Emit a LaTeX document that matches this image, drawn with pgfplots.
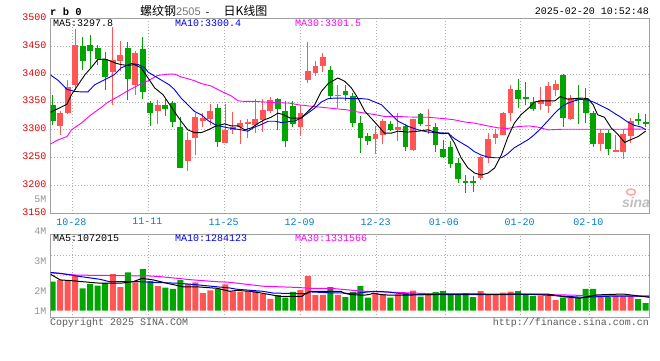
\documentclass[border=0pt]{standalone}
\usepackage{fontspec}
\setmainfont{Liberation Sans}
\setmonofont{Liberation Mono}
\newfontfamily\cjk{Noto Sans CJK SC}
\usepackage{pgfplots}
\usepackage{pgfplotstable}
\pgfplotsset{compat=1.18}
\definecolor{cRed}{RGB}{255,85,85}
\definecolor{cGreen}{RGB}{0,165,0}
\definecolor{lblRed}{RGB}{225,0,0}
\definecolor{lblBlue}{RGB}{0,125,205}
\definecolor{lblGray}{RGB}{150,150,150}
\definecolor{txtGray}{RGB}{90,90,90}
\definecolor{frameGray}{RGB}{160,160,160}
\definecolor{gridGray}{RGB}{175,175,175}
\definecolor{maBlue}{RGB}{0,0,235}
\definecolor{maMag}{RGB}{255,0,255}

% up (red) candles: index, open, high, low, close, volume (M)
\pgfplotstableread{
k o h l c v
2 3307 3333 3290 3331 2.35
3 3331 3390 3328 3377 2.35
4 3380 3480 3372 3452 2.50
9 3403 3485 3344 3426 2.55
10 3424 3460 3405 3434 2.12
12 3380 3441 3363 3438 2.28
15 3333 3354 3310 3345 2.15
19 3244 3297 3226 3281 2.23
20 3285 3330 3255 3323 2.28
21 3315 3330 3305 3321 1.92
22 3320 3347 3309 3333 2.01
24 3277 3346 3277 3300 2.21
25 3300 3332 3292 3305 1.98
26 3305 3318 3274 3312 1.96
27 3312 3320 3285 3313 1.98
28 3309 3355 3294 3320 1.98
29 3318 3356 3297 3335 1.89
30 3334 3358 3330 3354 1.73
34 3305 3345 3289 3330 2.02
35 3390 3458 3384 3405 2.49
36 3402 3424 3396 3415 1.85
37 3414 3438 3403 3430 1.86
39 3361 3381 3340 3363 1.86
44 3283 3307 3257 3292 1.92
45 3290 3319 3275 3315 1.88
47 3300 3331 3280 3306 1.88
49 3264 3320 3262 3319 2.00
51 3307 3337 3292 3309 1.91
58 3214 3254 3210 3251 1.99
59 3249 3295 3240 3284 1.89
60 3285 3301 3274 3292 1.86
61 3290 3332 3290 3330 1.94
62 3330 3380 3315 3374 1.97
66 3346 3377 3336 3354 1.83
67 3342 3385 3330 3379 1.83
68 3371 3389 3360 3382 1.69
70 3319 3363 3317 3357 1.77
74 3274 3302 3262 3294 1.83
76 3261 3290 3260 3263 1.83
77 3261 3302 3248 3292 1.83
78 3289 3321 3277 3315 1.83
}\upT

% down (green) candles
\pgfplotstableread{
k o h l c v
1 3344 3363 3308 3315 2.30
5 3450 3466 3407 3423 2.08
6 3452 3470 3410 3441 2.23
7 3446 3452 3416 3427 2.17
8 3427 3440 3372 3395 2.25
11 3446 3458 3354 3392 2.61
13 3445 3467 3356 3367 2.72
14 3348 3352 3307 3331 2.32
16 3345 3355 3325 3337 2.10
17 3349 3352 3305 3314 2.06
18 3306 3323 3231 3231 2.35
23 3340 3346 3269 3278 2.06
31 3355 3357 3299 3338 1.85
32 3334 3351 3270 3280 1.77
33 3342 3352 3305 3311 1.96
38 3408 3414 3358 3361 2.12
40 3370 3380 3352 3363 1.79
41 3361 3366 3305 3312 1.96
42 3313 3324 3258 3286 2.16
43 3289 3295 3273 3280 1.77
46 3310 3316 3298 3300 1.77
48 3307 3310 3262 3270 1.92
50 3329 3330 3307 3311 1.80
52 3306 3312 3261 3273 1.95
53 3265 3282 3250 3252 1.99
54 3270 3280 3231 3239 1.86
55 3240 3250 3205 3212 1.86
56 3208 3219 3186 3204 1.92
57 3208 3218 3189 3204 1.79
63 3371 3392 3340 3356 1.99
64 3359 3386 3344 3357 1.87
65 3350 3359 3334 3337 1.83
69 3398 3400 3306 3321 1.77
71 3357 3380 3311 3354 1.77
72 3356 3375 3312 3331 2.06
73 3331 3333 3269 3274 2.06
75 3294 3300 3255 3266 1.79
79 3320 3331 3308 3316 1.72
80 3314 3328 3305 3311 1.59
}\downT

\pgfplotstableread{
k p
0.64 3331
1.7 3338
2.9 3346
3.5 3363
4.4 3381
5.3 3399
6.1 3411
7 3426
7.9 3427
8.4 3425
9.3 3420
10.1 3417
11 3415.5
11.9 3417
12.8 3411
13.7 3393
14.6 3375
15.7 3363
16.6 3345
17.2 3333
18.1 3315.5
19 3300
19.9 3295
20.8 3295
21.7 3300
22.6 3306
23.9 3310.7
24.8 3307
25.7 3307
26.6 3300
27.5 3303.6
28.4 3312
29.2 3318
30.1 3322.6
31 3330
31.7 3327.4
32.6 3321.4
33.2 3321
34.1 3321
35 3333
35.9 3345
36.8 3369
37.7 3383
39 3393
39.9 3387
40.8 3375
41.7 3356
42.6 3333
43.9 3314
45.2 3294
46.1 3294
47 3297.6
48.3 3296
49.7 3297.6
51 3300
51.9 3296
52.8 3293
53.7 3294
54.5 3277
55.4 3250
56.3 3232
57.2 3222.6
58.1 3219
59 3222.6
59.9 3232
60.8 3256
61.6 3285.7
62.5 3312
63.4 3327.4
64.4 3339
65.2 3350
66.1 3352
67 3352
67.9 3352
68.6 3359.5
69.6 3355
70.5 3356
71.4 3357
72.3 3356
73 3345
73.6 3327
74.5 3322.6
75.4 3303.6
76.3 3291.7
77.2 3277.4
78.1 3283
79 3288
80 3297.8
}\maFive

\pgfplotstableread{
k p
0.64 3399
1.7 3389
2.9 3372.6
3.9 3369
4.8 3368
5.7 3368
6.6 3381
7.5 3387
8.4 3393
9.2 3399
10.1 3411
11.5 3419
12.4 3417
13.3 3411
13.7 3403.6
15 3393
16.5 3381
17.2 3372.6
18.1 3357
19 3345
19.9 3333
20.8 3327
21.7 3316.7
22.6 3309.5
23.5 3306
24.4 3303.6
25.2 3302
26.1 3300
27 3297.6
27.9 3305
28.8 3309.5
29.7 3315.5
30.6 3315.5
31.5 3313
32.5 3315
33.2 3315.5
34.1 3321.4
35 3330
35.9 3339
36.8 3350
37.7 3356
38.6 3357
39.4 3357
40.8 3356
42.1 3356
43 3355
43.9 3350
44.8 3345
45.7 3333
47 3315.5
48.4 3306
49.7 3300
51 3296
52.3 3295
53.7 3294
54.5 3284.5
55.4 3277
56.3 3270
57.2 3260.7
58.1 3254.8
59 3251
59.9 3250
60.8 3250
61.6 3257
62.5 3268
63.4 3275
64.4 3283
65.2 3291.7
66.1 3303.6
67 3316.7
67.9 3330
68.8 3341.7
69.6 3347.6
70.5 3352
71.4 3354.8
72.3 3353.6
73.2 3349
74.1 3343
75 3337
75.8 3330
76.7 3322.6
77.6 3314
78.5 3308
79.4 3305
80 3300.4
}\maTen

\pgfplotstableread{
k p
0.64 3274
1.7 3282
2.9 3288
3.5 3300
4.8 3312
6.1 3327
7.5 3340.5
8.4 3350
9.7 3359.5
11 3370
12.4 3380
13.7 3388
15 3397.6
16.5 3400
17.2 3400
18.1 3395
19 3391.7
19.9 3388
20.8 3383
22.1 3378.6
23.5 3369
24.8 3360.7
25.7 3352
26.6 3351
27.9 3351
29.2 3350
30.6 3349
32.5 3348
33.7 3345
35 3343
36.8 3340.5
38.6 3338
40.3 3335.7
41.2 3333
42.6 3330
43.9 3327.4
45.2 3324
47 3324
48.5 3323
51 3322.6
53.2 3320
54.5 3318
55.9 3314
57.2 3312
59 3307
60.3 3303.6
61.6 3302.4
63 3306
64.5 3307
65.6 3305
67 3300
68.8 3301
72.3 3301
75.8 3301
80 3301.5
}\maThirty

% volume moving averages (M)
\pgfplotstableread{
k v
0.64 2.56
2 2.36
3.7 2.33
5 2.30
7.3 2.25
10 2.25
11.7 2.30
12.9 2.41
14.4 2.36
16.2 2.25
18.4 2.13
20.2 2.13
22.9 2.08
24.6 1.98
25.5 2.01
27.3 1.98
28.6 1.93
29.5 1.89
31.3 1.81
34.2 1.81
34.6 1.89
35.3 1.98
39.4 1.98
39.8 1.92
40.7 1.87
42.5 1.85
43.3 1.88
43.7 1.92
44.7 1.87
46 1.85
47.8 1.85
51.3 1.87
52.6 1.89
60.2 1.88
66.9 1.89
69 1.80
71.3 1.75
73.5 1.86
77 1.89
80.5 1.78
}\vmaFive

\pgfplotstableread{
k v
0.64 2.61
2 2.58
4.2 2.49
7.3 2.38
8.6 2.30
12.6 2.30
15.3 2.27
17.6 2.25
19.7 2.21
22.9 2.13
24.6 2.09
25.5 2.05
29 1.98
30.4 1.92
34.8 1.90
35.3 1.96
38 1.93
39.4 1.93
40.8 1.90
41.6 1.92
43.8 1.98
45.6 1.96
47.8 1.89
51.3 1.87
60.2 1.87
64.6 1.88
69 1.82
71.6 1.78
75.6 1.82
80.5 1.82
}\vmaTen

\pgfplotstableread{
k v
0.64 2.60
4.2 2.52
14 2.49
15.3 2.47
19.7 2.36
22.9 2.30
24.6 2.28
29 2.15
33.5 2.11
35.3 2.08
38 2.08
39.4 2.05
41.5 2.00
43.3 1.97
45 1.96
51.3 1.90
64.6 1.88
69 1.86
73.5 1.83
80.5 1.82
}\vmaThirty

\pgfplotsset{
  sinagrid/.style={
    grid style={gridGray, line width=0.8pt, dash pattern=on 1pt off 2pt},
    axis line style={frameGray, line width=1.2pt},
    major tick length=0pt,
    xmin=0.707, xmax=80.48,
    xtick={3.611,13.736,23.911,34.036,44.161,53.26,63.35,72.49},
    xmajorgrids,
  },
  wick/.style={draw=none, no markers,
    error bars/.cd, y dir=both, y explicit, error mark=none,
    error bar style={draw=#1, solid, line width=1pt}},
  body/.style={draw=none, no markers,
    error bars/.cd, y dir=both, y explicit, error mark=none,
    error bar style={draw=#1, solid, line width=5.8pt}},
}

\begin{document}
\begin{tikzpicture}
\path[use as bounding box] (0pt,0pt) rectangle (660pt,360pt);

% ---------------- price panel ----------------
\begin{axis}[sinagrid,
  at={(50.5pt,146.5pt)}, anchor=south west, scale only axis,
  width=598.8pt, height=195.2pt,
  ymin=3150, ymax=3500,
  ytick={3150,3200,3250,3300,3350,3400,3450,3500},
  yticklabels={3150,3200,3250,3300,3350,3400,3450,3500},
  ymajorgrids,
  xticklabels={10-28,11-11,11-25,12-09,12-23,01-06,01-20,02-10},
  yticklabel style={font=\ttfamily\fontsize{10}{10}\selectfont, text=lblRed,
    anchor=east, inner sep=0pt, xshift=-4pt, yshift=1.3pt},
  xticklabel style={font=\ttfamily\fontsize{10}{10}\selectfont, text=lblBlue,
    anchor=center, inner sep=0pt, yshift=-8.2pt, xshift=-1pt},
]
\addplot[wick=cRed] table[x=k, y expr={(\thisrow{h}+\thisrow{l})/2},
  y error expr={(\thisrow{h}-\thisrow{l})/2}] {\upT};
\addplot[wick=cGreen] table[x=k, y expr={(\thisrow{h}+\thisrow{l})/2},
  y error expr={(\thisrow{h}-\thisrow{l})/2}] {\downT};
\addplot[body=cRed] table[x=k, y expr={(\thisrow{o}+\thisrow{c})/2},
  y error expr={max(abs(\thisrow{c}-\thisrow{o})/2,0.9)}] {\upT};
\addplot[body=cGreen] table[x=k, y expr={(\thisrow{o}+\thisrow{c})/2},
  y error expr={max(abs(\thisrow{c}-\thisrow{o})/2,0.9)}] {\downT};
\addplot[maMag, line width=0.9pt, mark=none] table[x=k, y=p] {\maThirty};
\addplot[maBlue, line width=0.9pt, mark=none] table[x=k, y=p] {\maTen};
\addplot[black, line width=0.9pt, mark=none] table[x=k, y=p] {\maFive};
\end{axis}

% ---------------- volume panel ----------------
\begin{axis}[sinagrid,
  at={(50.5pt,42.3pt)}, anchor=south west, scale only axis,
  width=598.8pt, height=83.4pt,
  y filter/.expression={y-1.3333},
  ymin=-0.2333, ymax=2.547,
  ytick={0,0.6667,1.6667}, yticklabels={1M,2M,3M},
  extra y ticks={1.19,1.857}, extra y tick labels={},
  extra y tick style={grid=major},
  xticklabels={},
  yticklabel style={font=\ttfamily\fontsize{10}{10}\selectfont, text=lblGray,
    anchor=east, inner sep=0pt, xshift=-4pt},
]
\addplot[ybar, bar width=6pt, bar shift=0pt, fill=cRed, draw=none] table[x=k, y=v] {\upT};
\addplot[ybar, bar width=6pt, bar shift=0pt, fill=cGreen, draw=none] table[x=k, y=v] {\downT};
\addplot[maMag, line width=1pt, mark=none] table[x=k, y=v] {\vmaThirty};
\addplot[maBlue, line width=1pt, mark=none] table[x=k, y=v] {\vmaTen};
\addplot[black, line width=1pt, mark=none] table[x=k, y=v] {\vmaFive};
\end{axis}

% ---------------- texts ----------------
\def\mono{\ttfamily\fontsize{10}{10}\selectfont}
\node[anchor=west, inner sep=0pt] at (50pt,348pt) {\ttfamily\bfseries\fontsize{10.5}{10.5}\selectfont r b 0};
\node[anchor=west, inner sep=0pt] at (140pt,349.5pt) {\cjk\fontsize{12}{12}\selectfont 螺纹钢{\rmfamily\fontsize{11}{11}\selectfont\color{black!55}2505}\hspace{4pt}{\mono -}\hspace{13pt}日K线图};
\node[anchor=east, inner sep=0pt] at (649pt,348.3pt) {\mono 2025-02-20 10:52:48};
\node[anchor=west, inner sep=0pt] at (53pt,337pt) {\mono MA5:3297.8};
\node[anchor=west, inner sep=0pt, text=maBlue] at (175pt,337pt) {\mono MA10:3300.4};
\node[anchor=west, inner sep=0pt, text=maMag] at (295pt,337pt) {\mono MA30:3301.5};
\node[anchor=west, inner sep=0pt] at (53pt,121.5pt) {\mono MA5:1072015};
\node[anchor=west, inner sep=0pt, text=maBlue] at (175pt,121.5pt) {\mono MA10:1284123};
\node[anchor=west, inner sep=0pt, text=maMag] at (295pt,121.5pt) {\mono MA30:1331566};
\node[anchor=east, inner sep=0pt, text=lblGray] at (46.5pt,129pt) {\mono 4M};
\node[anchor=east, inner sep=0pt, text=lblGray] at (46.5pt,160.7pt) {\mono 5M};
\node[anchor=west, inner sep=0pt, text=txtGray] at (50pt,36.7pt) {\mono Copyright 2025 SINA.COM};
\node[anchor=east, inner sep=0pt, text=txtGray] at (649pt,36.7pt) {\mono http://finance.sina.com.cn};
% watermark
\node[inner sep=0pt, text=black!25] at (636pt,158pt) {\bfseries\itshape\fontsize{14}{14}\selectfont sina};
\draw[red!35, line width=1.5pt] (631pt,168pt) ellipse (4.5pt and 3pt);
\end{tikzpicture}
\end{document}
